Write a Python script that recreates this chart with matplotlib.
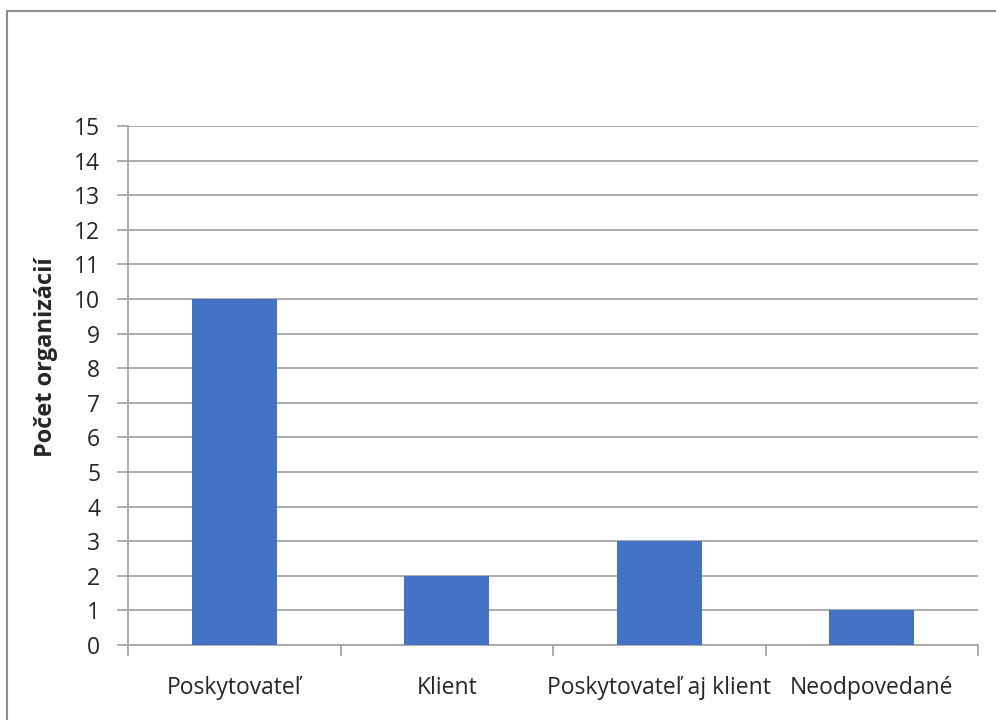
import matplotlib.pyplot as plt
from matplotlib.patches import Rectangle

categories = ["Poskytovateľ", "Klient", "Poskytovateľ aj klient", "Neodpovedané"]
counts = [10, 2, 3, 1]
y_ticks = list(range(0, 16))

plt.rcParams["font.family"] = ["Open Sans", "DejaVu Sans"]

fig = plt.figure(figsize=(9.96, 7.2), dpi=100)

# outer chart frame (Excel chart area border)
fig.patches.append(Rectangle((7 / 996, -0.05), 1.0, (720 - 11) / 720 + 0.05,
                             transform=fig.transFigure, fill=False,
                             edgecolor="#8c8c8c", linewidth=1.5))

ax = fig.add_axes([128 / 996, 75 / 720, 850 / 996, 519 / 720])

x = list(range(len(categories)))
ax.bar(x, counts, width=0.4, color="#4472C4", zorder=3)

ax.set_xlim(-0.5, len(categories) - 0.5)
ax.set_ylim(0, 15)
ax.set_yticks(y_ticks)
ax.set_yticklabels([str(t) for t in y_ticks], fontsize=16.5, color="#262626")
ax.yaxis.grid(True, color="#a6a6a6", linewidth=1.3, zorder=0)

ax.set_xticks(x)
ax.set_xticklabels(categories, fontsize=16.5, color="#262626")
ax.tick_params(axis="x", length=0, pad=22)
ax.tick_params(axis="y", length=8, width=1.3, color="#a6a6a6", pad=12)

# category boundary ticks below the axis
ax.set_xticks([i - 0.5 for i in range(len(categories) + 1)], minor=True)
ax.tick_params(axis="x", which="minor", length=8, width=1.3, color="#a6a6a6")

for side in ["top", "right"]:
    ax.spines[side].set_visible(False)
ax.spines["left"].set_color("#a6a6a6")
ax.spines["left"].set_linewidth(1.3)
ax.spines["bottom"].set_color("#a6a6a6")
ax.spines["bottom"].set_linewidth(1.3)

fig.text(46 / 996, 1 - 357 / 720, "Počet organizácií", rotation=90,
         ha="center", va="center", fontsize=17, fontweight="bold", color="#262626")

fig.savefig("out.png", dpi=100)
